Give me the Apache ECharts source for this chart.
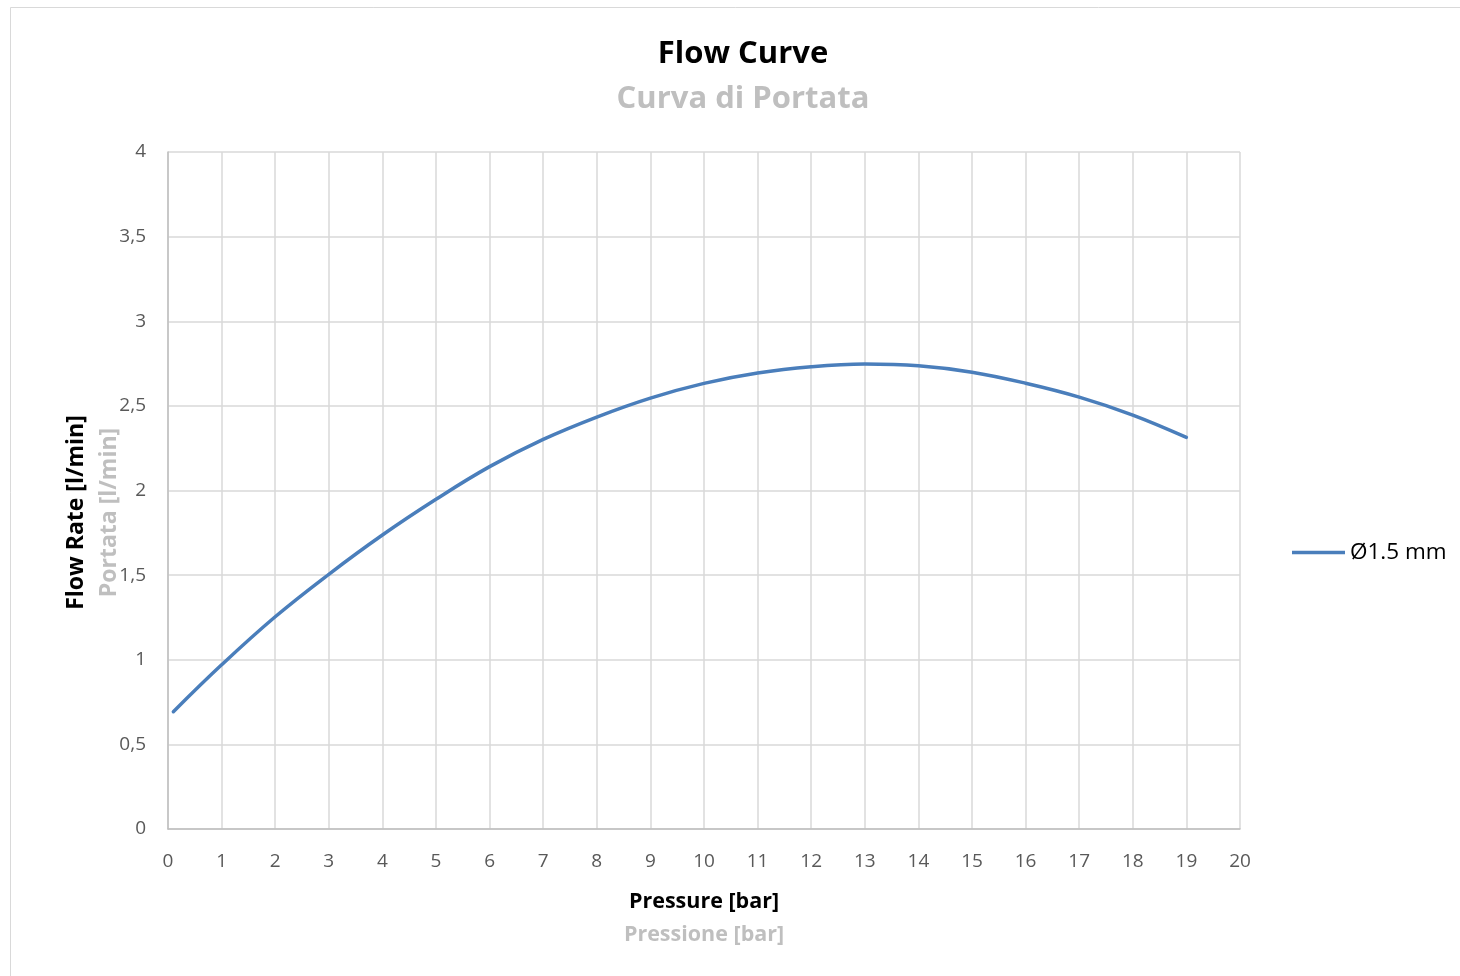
<!DOCTYPE html>
<html>
<head>
<meta charset="utf-8">
<script src="https://cdn.jsdelivr.net/npm/echarts@6/dist/echarts.min.js"></script>
<style>
html,body{margin:0;padding:0;background:#fff;}
#chart{width:1460px;height:976px;}
</style>
</head>
<body>
<div id="chart"></div>
<script>
const titleMain = "Flow Curve";
const titleSub = "Curva di Portata";
const xNameMain = "Pressure [bar]";
const xNameSub = "Pressione [bar]";
const yNameMain = "Flow Rate [l/min]";
const yNameSub = "Portata [l/min]";
const seriesName = "Ø1.5 mm";
const pressure = [0.1, 1, 2, 3, 4, 5, 6, 7, 8, 9, 10, 11, 12, 13, 14, 15, 16, 17, 18, 19];
const flow = [0.693, 0.97, 1.254, 1.505, 1.737, 1.948, 2.141, 2.302, 2.434, 2.546, 2.633, 2.694, 2.731, 2.747, 2.737, 2.699, 2.634, 2.552, 2.446, 2.314];

const FONT = "'Open Sans', 'Liberation Sans', sans-serif";
const chart = echarts.init(document.getElementById('chart'), null, {renderer: 'canvas'});
const data = pressure.map((p, i) => [p, flow[i]]);

chart.setOption({
  backgroundColor: '#ffffff',
  animation: false,
  graphic: [{
    type: 'rect', shape: {x: 10.5, y: 7.5, width: 1500, height: 1000},
    style: {fill: 'none', stroke: '#d9d9d9', lineWidth: 1}, silent: true
  }],
  title: [{
    text: titleMain, left: 738, textAlign: 'center', top: 34,
    textStyle: {fontFamily: FONT, fontWeight: 'bold', fontSize: 31, color: '#000000'}
  }, {
    text: titleSub, left: 738, textAlign: 'center', top: 79,
    textStyle: {fontFamily: FONT, fontWeight: 'bold', fontSize: 31, color: '#bfbfbf'}
  }],
  legend: {
    left: 1287, top: 536, orient: 'vertical',
    itemWidth: 53, itemHeight: 14, itemGap: 5,
    icon: 'path://M0,5.2 L53,5.2 L53,8.8 L0,8.8 Z',
    textStyle: {fontFamily: FONT, fontSize: 22.5, color: '#000000'},
    data: [seriesName]
  },
  grid: {left: 168, right: 220, top: 152, bottom: 147},
  xAxis: {
    type: 'value', min: 0, max: 20, interval: 1,
    axisLine: {show: true, lineStyle: {color: '#bfbfbf', width: 1.5}},
    axisTick: {show: false},
    splitLine: {show: true, lineStyle: {color: '#d9d9d9', width: 1.5}},
    axisLabel: {fontFamily: FONT, fontSize: 19, color: '#595959', margin: 23},
    name: '{a|' + xNameMain + '}\n{b|' + xNameSub + '}',
    nameLocation: 'middle', nameGap: 56,
    nameTextStyle: {
      rich: {
        a: {fontFamily: FONT, fontWeight: 'bold', fontSize: 21.5, color: '#000000', lineHeight: 33},
        b: {fontFamily: FONT, fontWeight: 'bold', fontSize: 21.5, color: '#bfbfbf', lineHeight: 33}
      }
    }
  },
  yAxis: {
    type: 'value', min: 0, max: 4, interval: 0.5,
    axisLine: {show: true, lineStyle: {color: '#bfbfbf', width: 1.5}},
    axisTick: {show: false},
    splitLine: {show: true, lineStyle: {color: '#d9d9d9', width: 1.5}},
    axisLabel: {
      fontFamily: FONT, fontSize: 19, color: '#595959', margin: 22,
      formatter: v => String(v).replace('.', ',')
    },
    name: '{a|' + yNameMain + '}\n{b|' + yNameSub + '}',
    nameLocation: 'middle', nameRotate: 90, nameGap: 42,
    nameMoveOverlap: false,
    nameTextStyle: {
      padding: [0, 44, 0, 0],
      rich: {
        a: {fontFamily: FONT, fontWeight: 'bold', fontSize: 23, color: '#000000', lineHeight: 33},
        b: {fontFamily: FONT, fontWeight: 'bold', fontSize: 23, color: '#bfbfbf', lineHeight: 33}
      }
    }
  },
  series: [{
    name: seriesName, type: 'line', data: data,
    smooth: 0.4, showSymbol: false, symbol: 'none',
    lineStyle: {color: '#4a7ebb', width: 3.5, cap: 'round'},
    itemStyle: {color: '#4a7ebb'}
  }]
});
</script>
</body>
</html>
